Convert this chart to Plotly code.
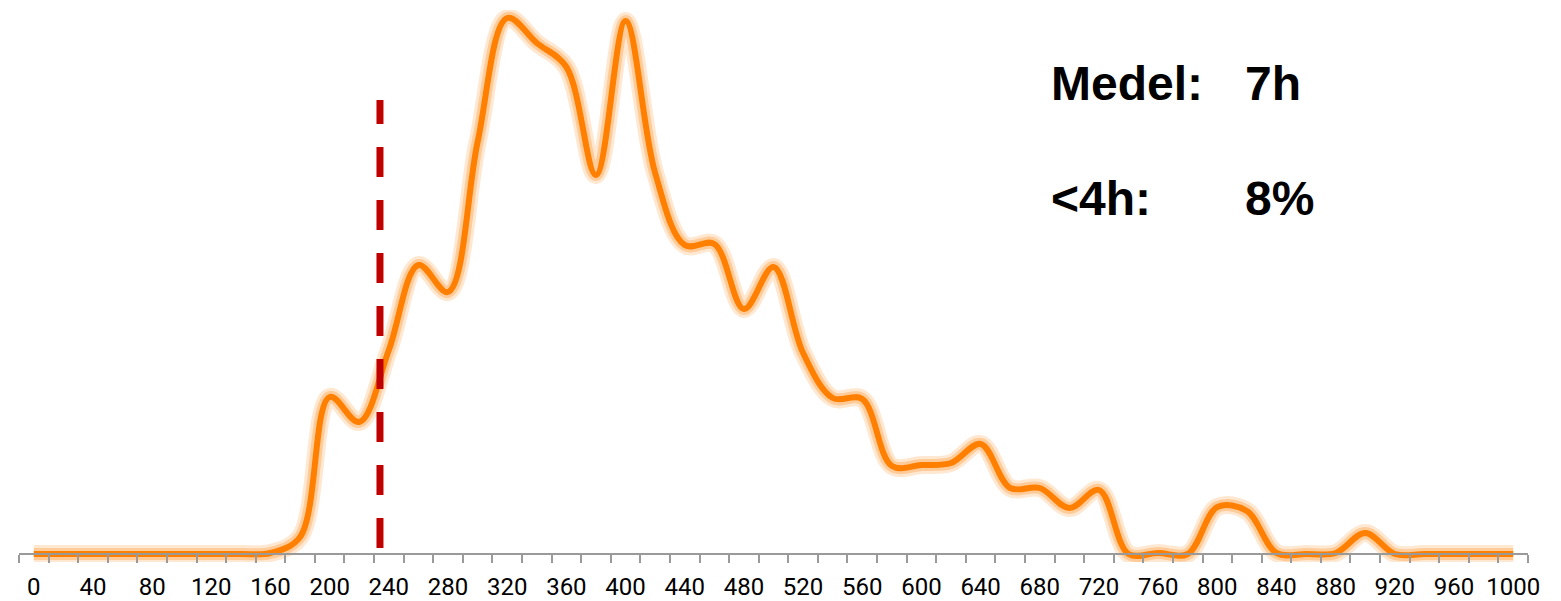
import plotly.graph_objects as go

# Categories: minutes of sleep (bin starts), step 20
minutes = list(range(0, 1001, 20))
# Frequency per bin (arbitrary units)
counts = [0, 0, 0, 0, 0, 0, 0, 0,      # 0..140
          1, 17, 157, 132, 204, 289, 262, 412,   # 160..300
          536, 511, 487, 379, 533, 381, 309, 310,  # 320..460
          245, 287, 201, 156, 155, 88, 89, 91,     # 480..620
          110, 66, 66, 46, 64, 0, 1, 0,            # 640..780
          47, 43, 1, 0, 1, 21, 0,                  # 800..920
          0, 0, 0, 0]                              # 940..1000
tick_labels = [str(v) for v in range(0, 1001, 40)]
threshold_x = 234
threshold_y = [6, 454]
annot_rows = [("Medel:", "7h"), ("<4h:", "8%")]

fig = go.Figure()
# glow
fig.add_trace(go.Scatter(x=minutes, y=counts, mode="lines",
                         line=dict(color="rgba(255,150,50,0.22)", width=18, shape="spline", smoothing=1),
                         hoverinfo="skip", showlegend=False))
fig.add_trace(go.Scatter(x=minutes, y=counts, mode="lines",
                         line=dict(color="rgba(255,150,50,0.35)", width=12, shape="spline", smoothing=1),
                         hoverinfo="skip", showlegend=False))
fig.add_trace(go.Scatter(x=minutes, y=counts, mode="lines",
                         line=dict(color="#FF7F00", width=6, shape="spline", smoothing=1),
                         showlegend=False))

fig.add_shape(type="line", xref="x", yref="y",
              x0=threshold_x, x1=threshold_x, y0=threshold_y[0], y1=threshold_y[1],
              line=dict(color="#C00000", width=7, dash="30px,23px"))

row_y = [0.866, 0.658]
for (lab, val), yy in zip(annot_rows, row_y):
    fig.add_annotation(xref="paper", yref="paper", x=0.6826, y=yy, text=lab, showarrow=False,
                       xanchor="left", yanchor="middle",
                       font=dict(family="Liberation Sans", size=48, color="black", weight="bold"))
    fig.add_annotation(xref="paper", yref="paper", x=0.811, y=yy, text=val, showarrow=False,
                       xanchor="left", yanchor="middle",
                       font=dict(family="Liberation Sans", size=48, color="black", weight="bold"))

fig.update_layout(
    width=1561, height=601,
    margin=dict(l=19, r=33, t=10, b=39, autoexpand=False),
    paper_bgcolor="white", plot_bgcolor="white",
    xaxis=dict(range=[-10, 1010], showgrid=False, zeroline=False,
               showline=True, linecolor="#9a9a9a", linewidth=1.5,
               anchor="free", position=8 / 552,
               tickmode="array", tickvals=list(range(0, 1001, 40)), ticktext=tick_labels,
               ticks="", ticklabelstandoff=11,
               tickfont=dict(family="Roboto", size=24, color="black"),
               minor=dict(tickmode="linear", tick0=-10, dtick=20, ticks="outside",
                          ticklen=8, tickwidth=1.5, tickcolor="#9a9a9a", showgrid=False),
               automargin=False),
    yaxis=dict(range=[-8, 544], visible=False, showgrid=False, zeroline=False),
)

fig.write_html("out.html", config={"displayModeBar": False},
               post_script="document.body.style.margin='0';document.body.style.padding='0';")
